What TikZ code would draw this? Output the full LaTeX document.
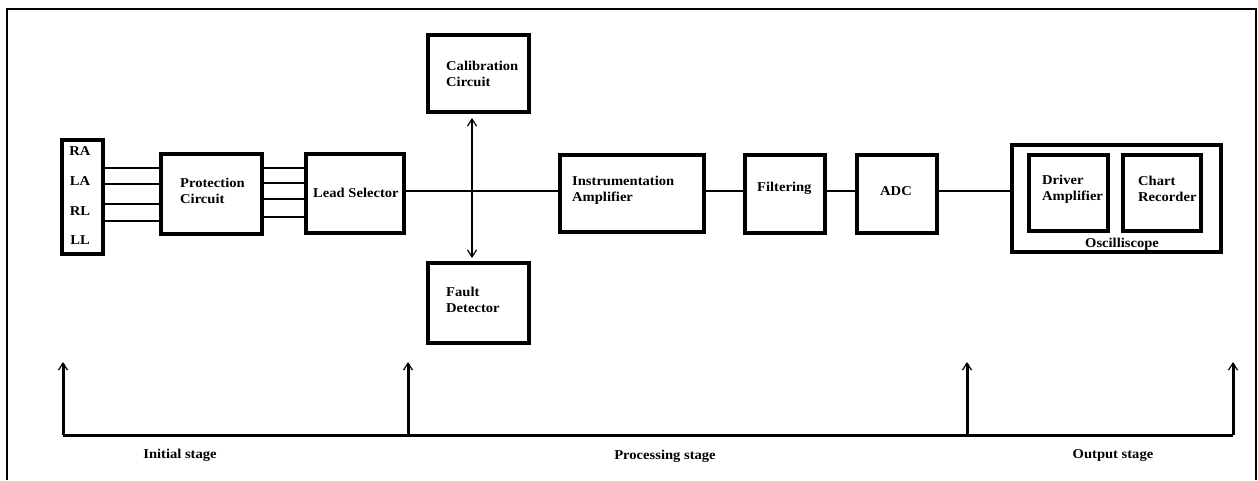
\documentclass[tikz,border=0pt]{standalone}
\usepackage{fontspec}
\setmainfont{Liberation Serif}[FakeStretch=1.08]
\usetikzlibrary{arrows.meta}
\tikzset{
  blk/.style={draw, line width=3.2pt, inner sep=0pt, minimum width=#1},
  lbl/.style={font=\bfseries\fontsize{13.5}{16}\selectfont, inner sep=0pt, align=left, anchor=west},
  clbl/.style={font=\bfseries\fontsize{13.5}{16}\selectfont, inner sep=0pt, align=center},
  wire/.style={line width=2.8pt},
  barb/.style={-{Straight Barb[length=7pt,width=9pt,line width=1.2pt]}},
}
\begin{document}
\begin{tikzpicture}[x=1pt,y=-1pt]
\useasboundingbox (0,0) rectangle (1258,480);
% outer frame
\coordinate (fbl) at (7,480);
\coordinate (ftl) at (7,9);
\coordinate (ftr) at (1256,9);
\coordinate (fbr) at (1256,480);
\draw[line width=2.2pt] (fbl) -- (ftl) -- (ftr) -- (fbr);

% boxes
\node[blk=41pt, minimum height=114pt] (leads) at (82.5,197) {};
\node[blk=101pt, minimum height=80pt] (prot) at (211.5,194) {};
\node[blk=98pt, minimum height=79pt] (sel) at (355,193.5) {};
\node[blk=101pt, minimum height=77pt] (cal) at (478.5,73.5) {};
\node[blk=101pt, minimum height=80pt] (fault) at (478.5,303) {};
\node[blk=144pt, minimum height=77pt] (inst) at (632,193.5) {};
\node[blk=80pt, minimum height=78pt] (filt) at (785,194) {};
\node[blk=80pt, minimum height=78pt] (adc) at (897,194) {};
\node[blk=209pt, minimum height=107pt] (osc) at (1116.5,198.5) {};
\node[blk=79pt, minimum height=76pt] (drv) at (1068.5,193) {};
\node[blk=78pt, minimum height=76pt] (chart) at (1162,193) {};

% texts
\node[clbl] (tRA) at (80,151) {RA};
\node[clbl] (tLA) at (80,181) {LA};
\node[clbl] (tRL) at (80,211) {RL};
\node[clbl] (tLL) at (80,240) {LL};
\node[lbl] (tprot) at (180,191) {Protection\\Circuit};
\node[lbl] (tsel) at (313,193) {Lead Selector};
\node[lbl] (tcal) at (446,74) {Calibration\\Circuit};
\node[lbl] (tfault) at (446,300) {Fault\\Detector};
\node[lbl] (tinst) at (572,190) {Instrumentation\\Amplifier};
\node[lbl] (tfilt) at (757,188) {Filtering};
\node[clbl] (tadc) at (896,191) {ADC};
\node[lbl] (tdrv) at (1042,189) {Driver\\Amplifier};
\node[lbl] (tchart) at (1138,189) {Chart\\Recorder};
\node[clbl] (tosc) at (1122,244) {Oscilliscope};

% lead wires
\foreach \y in {168,184,204,221}
  \draw[wire] (leads.east |- 0,\y) -- (prot.west |- 0,\y);
\foreach \y in {168,183,199,217}
  \draw[wire] (prot.east |- 0,\y) -- (sel.west |- 0,\y);

% main signal path
\draw[wire] (sel.east |- 0,191) -- (inst.west |- 0,191);
\draw[wire] (inst.east |- 0,191) -- (filt.west |- 0,191);
\draw[wire] (filt.east |- 0,191) -- (adc.west |- 0,191);
\draw[wire] (adc.east |- 0,191) -- (osc.west |- 0,191);

% calibration / fault double arrow
\coordinate (cross) at (472,191);
\draw[wire, barb] (cross) -- (cross |- 0,118);
\draw[wire, barb] (cross) -- (cross |- 0,258);

% stage bracket
\coordinate (s1) at (63,435);
\coordinate (s2) at (408,435);
\coordinate (s3) at (967,435);
\coordinate (s4) at (1233,435);
\draw[line width=3pt] (s1) -- (s4);
\foreach \c in {s1,s2,s3,s4}
  \draw[line width=3pt, barb] (\c) -- ([yshift=73pt]\c);

\node[clbl] (tinit) at (180,455) {Initial stage};
\node[clbl] (tproc) at (665,456) {Processing stage};
\node[clbl] (tout) at (1113,456) {Output stage};
\end{tikzpicture}
\end{document}
